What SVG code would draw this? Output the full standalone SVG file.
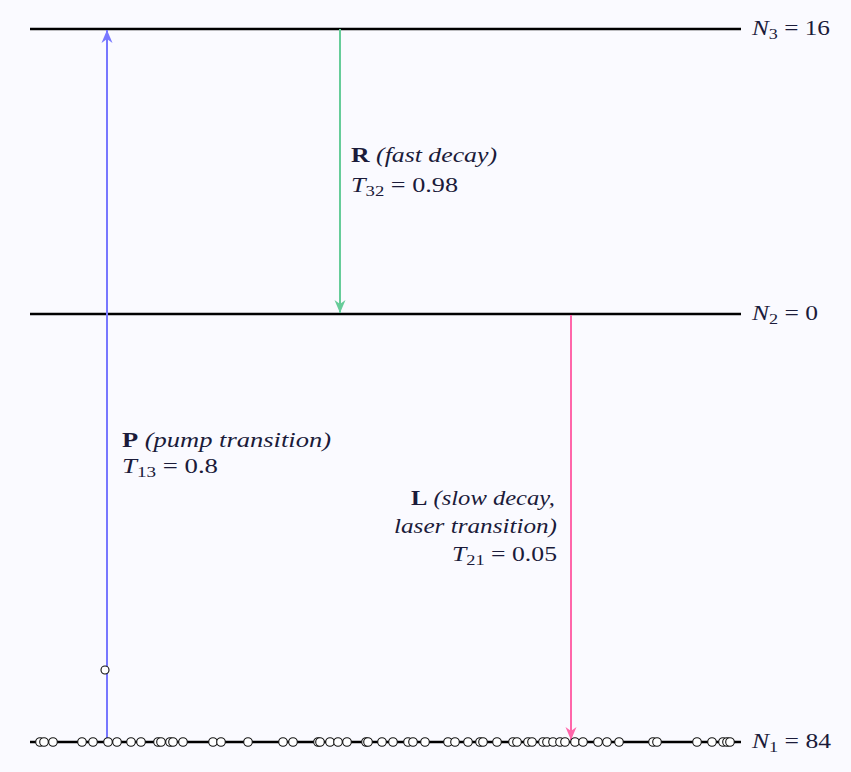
<svg xmlns="http://www.w3.org/2000/svg" width="851" height="772" viewBox="0 0 851 772">
<style>
.lvl{stroke:#000;stroke-width:2.6;fill:none}
.t{font-family:"Liberation Serif","DejaVu Serif",serif;font-size:21px;fill:#1b1b3a}
.i{font-style:italic}
.b{font-weight:bold}
.s{font-size:15px}
.atom{fill:#fff;stroke:#111;stroke-width:1.1}
</style>
<defs>
<marker id="ab" viewBox="-13 -6 14 12" refX="0" refY="0" markerWidth="14" markerHeight="12" markerUnits="userSpaceOnUse" orient="auto"><path d="M0,0 L-13,-5.5 L-9,0 L-13,5.5 Z" fill="#7777ff"/></marker>
<marker id="ag" viewBox="-13 -6 14 12" refX="0" refY="0" markerWidth="14" markerHeight="12" markerUnits="userSpaceOnUse" orient="auto"><path d="M0,0 L-13,-5.5 L-9,0 L-13,5.5 Z" fill="#66cc99"/></marker>
<marker id="ap" viewBox="-13 -6 14 12" refX="0" refY="0" markerWidth="14" markerHeight="12" markerUnits="userSpaceOnUse" orient="auto"><path d="M0,0 L-13,-5.5 L-9,0 L-13,5.5 Z" fill="#ff66aa"/></marker>
</defs>
<rect width="851" height="772" fill="#fafaff"/>
<g id="level3"><line class="lvl" x1="30" y1="29" x2="741" y2="29"/><text class="t" x="752" y="35" textLength="78" lengthAdjust="spacingAndGlyphs"><tspan class="i">N</tspan><tspan class="s" dy="4">3</tspan><tspan dy="-4"> = 16</tspan></text></g>
<g id="level2"><line class="lvl" x1="30" y1="314" x2="741" y2="314"/><text class="t" x="752" y="320" textLength="66" lengthAdjust="spacingAndGlyphs"><tspan class="i">N</tspan><tspan class="s" dy="4">2</tspan><tspan dy="-4"> = 0</tspan></text></g>
<g id="level1"><line class="lvl" x1="30" y1="742" x2="741" y2="742"/><text class="t" x="752" y="748" textLength="79" lengthAdjust="spacingAndGlyphs"><tspan class="i">N</tspan><tspan class="s" dy="4">1</tspan><tspan dy="-4"> = 84</tspan></text></g>
<g id="connectors">
<line x1="107" y1="742" x2="107" y2="30" stroke="#7777ff" stroke-width="2" marker-end="url(#ab)"/>
<line x1="340" y1="29" x2="340" y2="313" stroke="#66cc99" stroke-width="2" marker-end="url(#ag)"/>
<line x1="571" y1="315" x2="571" y2="740" stroke="#ff66aa" stroke-width="2" marker-end="url(#ap)"/>
</g>
<g id="labelR"><text class="t" x="351" y="162" textLength="146" lengthAdjust="spacingAndGlyphs"><tspan class="b">R</tspan><tspan class="i"> (fast decay)</tspan></text><text class="t" x="351" y="192" textLength="107" lengthAdjust="spacingAndGlyphs"><tspan class="i">T</tspan><tspan class="s" dy="4">32</tspan><tspan dy="-4"> = 0.98</tspan></text></g>
<g id="labelP"><text class="t" x="122" y="447" textLength="209" lengthAdjust="spacingAndGlyphs"><tspan class="b">P</tspan><tspan class="i"> (pump transition)</tspan></text><text class="t" x="122" y="473" textLength="96" lengthAdjust="spacingAndGlyphs"><tspan class="i">T</tspan><tspan class="s" dy="4">13</tspan><tspan dy="-4"> = 0.8</tspan></text></g>
<g id="labelL"><text class="t" x="411" y="505" textLength="144" lengthAdjust="spacingAndGlyphs"><tspan class="b">L</tspan><tspan class="i"> (slow decay,</tspan></text><text class="t i" x="394" y="533" textLength="163" lengthAdjust="spacingAndGlyphs">laser transition)</text><text class="t" x="452" y="561" textLength="105" lengthAdjust="spacingAndGlyphs"><tspan class="i">T</tspan><tspan class="s" dy="4">21</tspan><tspan dy="-4"> = 0.05</tspan></text></g>
<g id="atoms">
<circle class="atom" cx="105" cy="670" r="4"/>
<circle class="atom" cx="40" cy="742" r="4.3"/><circle class="atom" cx="44" cy="742" r="4.3"/><circle class="atom" cx="53" cy="742" r="4.3"/><circle class="atom" cx="82" cy="742" r="4.3"/><circle class="atom" cx="93" cy="742" r="4.3"/><circle class="atom" cx="108" cy="742" r="4.3"/><circle class="atom" cx="117" cy="742" r="4.3"/><circle class="atom" cx="131" cy="742" r="4.3"/><circle class="atom" cx="141" cy="742" r="4.3"/><circle class="atom" cx="158" cy="742" r="4.3"/><circle class="atom" cx="161" cy="742" r="4.3"/><circle class="atom" cx="170" cy="742" r="4.3"/><circle class="atom" cx="173" cy="742" r="4.3"/><circle class="atom" cx="183" cy="742" r="4.3"/><circle class="atom" cx="213" cy="742" r="4.3"/><circle class="atom" cx="221" cy="742" r="4.3"/><circle class="atom" cx="248" cy="742" r="4.3"/><circle class="atom" cx="283" cy="742" r="4.3"/><circle class="atom" cx="293" cy="742" r="4.3"/><circle class="atom" cx="318" cy="742" r="4.3"/><circle class="atom" cx="320" cy="742" r="4.3"/><circle class="atom" cx="330" cy="742" r="4.3"/><circle class="atom" cx="338" cy="742" r="4.3"/><circle class="atom" cx="347" cy="742" r="4.3"/><circle class="atom" cx="366" cy="742" r="4.3"/><circle class="atom" cx="368" cy="742" r="4.3"/><circle class="atom" cx="382" cy="742" r="4.3"/><circle class="atom" cx="393" cy="742" r="4.3"/><circle class="atom" cx="408" cy="742" r="4.3"/><circle class="atom" cx="413" cy="742" r="4.3"/><circle class="atom" cx="425" cy="742" r="4.3"/><circle class="atom" cx="448" cy="742" r="4.3"/><circle class="atom" cx="455" cy="742" r="4.3"/><circle class="atom" cx="468" cy="742" r="4.3"/><circle class="atom" cx="480" cy="742" r="4.3"/><circle class="atom" cx="483" cy="742" r="4.3"/><circle class="atom" cx="497" cy="742" r="4.3"/><circle class="atom" cx="513" cy="742" r="4.3"/><circle class="atom" cx="517" cy="742" r="4.3"/><circle class="atom" cx="528" cy="742" r="4.3"/><circle class="atom" cx="532" cy="742" r="4.3"/><circle class="atom" cx="543" cy="742" r="4.3"/><circle class="atom" cx="547" cy="742" r="4.3"/><circle class="atom" cx="553" cy="742" r="4.3"/><circle class="atom" cx="560" cy="742" r="4.3"/><circle class="atom" cx="565" cy="742" r="4.3"/><circle class="atom" cx="575" cy="742" r="4.3"/><circle class="atom" cx="583" cy="742" r="4.3"/><circle class="atom" cx="598" cy="742" r="4.3"/><circle class="atom" cx="607" cy="742" r="4.3"/><circle class="atom" cx="619" cy="742" r="4.3"/><circle class="atom" cx="653" cy="742" r="4.3"/><circle class="atom" cx="657" cy="742" r="4.3"/><circle class="atom" cx="697" cy="742" r="4.3"/><circle class="atom" cx="712" cy="742" r="4.3"/><circle class="atom" cx="723" cy="742" r="4.3"/><circle class="atom" cx="727" cy="742" r="4.3"/><circle class="atom" cx="730" cy="742" r="4.3"/>
</g>
</svg>
